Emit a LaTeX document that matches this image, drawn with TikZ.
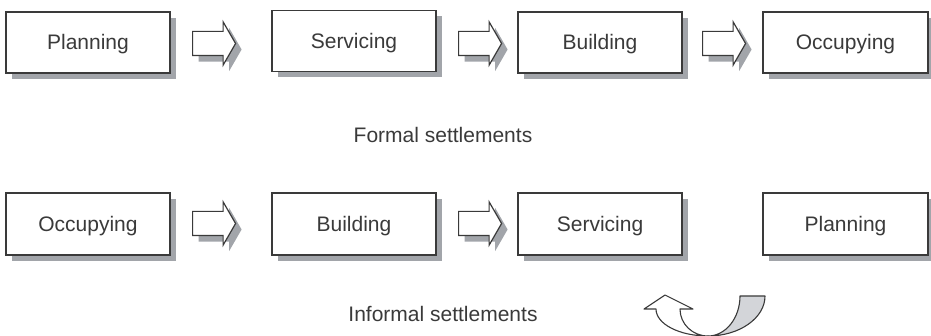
\documentclass[tikz,border=0pt]{standalone}
\usepackage{fontspec}
\setmainfont{Liberation Sans}
\usetikzlibrary{shapes.arrows,shadows}
\definecolor{inkgray}{HTML}{3A3A3A}
\definecolor{shadowgray}{HTML}{A2A5AA}
\definecolor{lightgray}{HTML}{D3D5D9}
\tikzset{
  stagebox/.style={draw=inkgray, line width=1.2pt, fill=white, text=inkgray,
    minimum width=164pt, minimum height=61pt, inner sep=0pt,
    text height=15pt, text depth=0pt,
    font=\fontsize{21}{25}\selectfont,
    drop shadow={shadow xshift=6pt, shadow yshift=-6pt, opacity=1, fill=shadowgray, draw=none}},
  blockarrow/.style={single arrow, draw=inkgray, line width=1.2pt, fill=white,
    inner xsep=0pt, inner ysep=11.5pt, minimum width=0pt, minimum height=43pt,
    single arrow head extend=9.5pt, single arrow tip angle=120, anchor=tail,
    drop shadow={shadow xshift=6pt, shadow yshift=-6pt, opacity=1, fill=shadowgray, draw=none}},
  caption/.style={text=inkgray, font=\fontsize{21}{25}\selectfont, anchor=base}
}
\begin{document}
\begin{tikzpicture}[x=1pt, y=-1pt]
  \useasboundingbox (0,0) rectangle (931,336);
  % formal settlements
  \node[stagebox] (fplan) at (88,42.5) {Planning};
  \node[stagebox] (fserv) at (354,41) {Servicing};
  \node[stagebox] (fbuild) at (600,42.5) {Building};
  \node[stagebox, minimum width=165pt] (focc) at (845.5,42.5) {Occupying};
  \node[blockarrow] (fa1) at (192,43.5) {};
  \node[blockarrow] (fa2) at (458,43.5) {};
  \node[blockarrow] (fa3) at (702,43.5) {};
  \node[caption] (fcap) at (443,143) {Formal settlements};
  % informal settlements
  \node[stagebox, minimum height=62pt] (iocc) at (88,224) {Occupying};
  \node[stagebox, minimum height=62pt] (ibuild) at (354,224) {Building};
  \node[stagebox, minimum height=62pt] (iserv) at (600,224) {Servicing};
  \node[stagebox, minimum height=62pt, minimum width=165pt] (iplan) at (845.5,224) {Planning};
  \node[blockarrow] (ia1) at (192,223.5) {};
  \node[blockarrow] (ia2) at (458,223.5) {};
  \node[caption] (icap) at (443,322) {Informal settlements};
  % curved return arrow
  \coordinate (bot) at (708,336);
  \draw[draw=inkgray, line width=1.1pt, fill=lightgray, line join=round]
    (740,296) -- (765,296) .. controls (765,318) and (739.5,336) .. (bot)
    .. controls (725.7,336) and (740,318) .. (740,296) -- cycle;
  \draw[draw=inkgray, line width=1.1pt, fill=white, line join=round]
    (644,309) -- (665,295) -- (693,309) -- (680,309)
    .. controls (680,324) and (692.5,336) .. (bot)
    .. controls (679.3,336) and (656,324) .. (656,309) -- cycle;
\end{tikzpicture}
\end{document}
